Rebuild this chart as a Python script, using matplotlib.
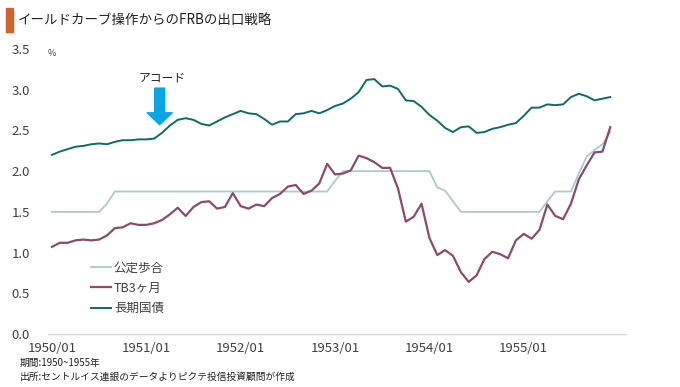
import numpy as np
import matplotlib
matplotlib.use("Agg")
import matplotlib.pyplot as plt
from matplotlib.patches import Rectangle

plt.rcParams['font.family'] = ['Noto Sans CJK JP', 'DejaVu Sans']

# monthly data, 1950/01 - 1955/12
discount_rate = [1.50, 1.50, 1.50, 1.50, 1.50, 1.50, 1.50, 1.60, 1.75, 1.75, 1.75, 1.75,
                 1.75, 1.75, 1.75, 1.75, 1.75, 1.75, 1.75, 1.75, 1.75, 1.75, 1.75, 1.75,
                 1.75, 1.75, 1.75, 1.75, 1.75, 1.75, 1.75, 1.75, 1.75, 1.75, 1.75, 1.75,
                 1.88, 2.00, 2.00, 2.00, 2.00, 2.00, 2.00, 2.00, 2.00, 2.00, 2.00, 2.00,
                 2.00, 1.80, 1.76, 1.63, 1.50, 1.50, 1.50, 1.50, 1.50, 1.50, 1.50, 1.50,
                 1.50, 1.50, 1.50, 1.63, 1.75, 1.75, 1.75, 1.97, 2.18, 2.26, 2.33, 2.48]
tb3m = [1.07, 1.12, 1.12, 1.15, 1.16, 1.15, 1.16, 1.21, 1.30, 1.31, 1.36, 1.34,
        1.34, 1.36, 1.40, 1.47, 1.55, 1.45, 1.56, 1.62, 1.63, 1.54, 1.56, 1.73,
        1.57, 1.54, 1.59, 1.57, 1.67, 1.72, 1.81, 1.83, 1.72, 1.76, 1.85, 2.09,
        1.96, 1.97, 2.01, 2.19, 2.16, 2.11, 2.04, 2.04, 1.79, 1.38, 1.44, 1.60,
        1.18, 0.97, 1.03, 0.96, 0.76, 0.64, 0.72, 0.92, 1.01, 0.98, 0.93, 1.15,
        1.23, 1.17, 1.28, 1.59, 1.45, 1.41, 1.60, 1.90, 2.07, 2.23, 2.24, 2.54]
long_bond = [2.20, 2.24, 2.27, 2.30, 2.31, 2.33, 2.34, 2.33, 2.36, 2.38, 2.38, 2.39,
             2.39, 2.40, 2.47, 2.56, 2.63, 2.65, 2.63, 2.58, 2.56, 2.61, 2.66, 2.70,
             2.74, 2.71, 2.70, 2.64, 2.57, 2.61, 2.61, 2.70, 2.71, 2.74, 2.71, 2.75,
             2.80, 2.83, 2.89, 2.97, 3.12, 3.13, 3.04, 3.05, 3.01, 2.87, 2.86, 2.79,
             2.69, 2.62, 2.53, 2.48, 2.54, 2.55, 2.47, 2.48, 2.52, 2.54, 2.57, 2.59,
             2.68, 2.78, 2.78, 2.82, 2.81, 2.82, 2.91, 2.95, 2.92, 2.87, 2.89, 2.91]
tick_labels = ['1950/01', '1951/01', '1952/01', '1953/01', '1954/01', '1955/01']
accord_month = 13.7   # 1951/03

x = np.arange(len(long_bond))

fig = plt.figure(figsize=(6.8, 3.87), dpi=100)
ax = fig.add_axes([48 / 680, 1 - 334 / 387, 578 / 680, 285 / 387])

ax.plot(x, discount_rate, color='#a9cbcb', lw=1.3, label='公定歩合')
ax.plot(x, tb3m, color='#8c4a6c', lw=1.6, label='TB3ヶ月')
ax.plot(x, long_bond, color='#0e6b6b', lw=1.4, label='長期国債')

ax.set_xlim(-0.5, 73)
ax.set_ylim(0, 3.5)
ax.set_yticks(np.arange(0, 3.6, 0.5))
ax.set_yticklabels(['%.1f' % v for v in np.arange(0, 3.6, 0.5)])
ax.set_xticks(np.arange(0, 61, 12))
ax.set_xticklabels(tick_labels)
ax.tick_params(axis='both', length=0, labelsize=9.5, colors='#404040')
ax.tick_params(axis='y', pad=13)
ax.tick_params(axis='x', pad=6)
for s in ['top', 'right', 'left']:
    ax.spines[s].set_visible(False)
ax.spines['bottom'].set_color('#d9d9d9')
ax.spines['bottom'].set_linewidth(1)

ax.text(0.0, 0.985, '%', transform=ax.transAxes, fontsize=6.5, color='#404040',
        ha='left', va='center')

leg = ax.legend(loc='upper left', bbox_to_anchor=(0.075, 0.255), frameon=False,
                fontsize=9, handlelength=1.6, handletextpad=0.2, labelspacing=0.6,
                borderpad=0, borderaxespad=0)
for t in leg.get_texts():
    t.set_color('#404040')

# accord arrow
ax.annotate('', xy=(accord_month, 2.57), xytext=(accord_month, 3.02),
            arrowprops=dict(arrowstyle='simple,head_length=0.86,head_width=1.8,tail_width=0.72',
                            color='#0aa5e6', mutation_scale=10, shrinkA=0, shrinkB=0))
ax.text(accord_month + 0.3, 3.15, 'アコード', fontsize=8.5, ha='center', va='center',
        color='#222222')

# title
fig.patches.append(Rectangle((6 / 680, 1 - 32 / 387), 7 / 680, 24 / 387,
                             transform=fig.transFigure, color='#d4602a'))
fig.text(18 / 680, 1 - 20 / 387, 'イールドカーブ操作からのFRBの出口戦略',
         fontsize=9.7, va='center', ha='left', color='#222222')

fig.text(20 / 680, 1 - 363 / 387, '期間:1950~1955年', fontsize=7, va='center', color='#222222')
fig.text(20 / 680, 1 - 377 / 387, '出所:セントルイス連銀のデータよりピクテ投信投資顧問が作成',
         fontsize=7, va='center', color='#222222')

fig.savefig('out.png', dpi=100)
